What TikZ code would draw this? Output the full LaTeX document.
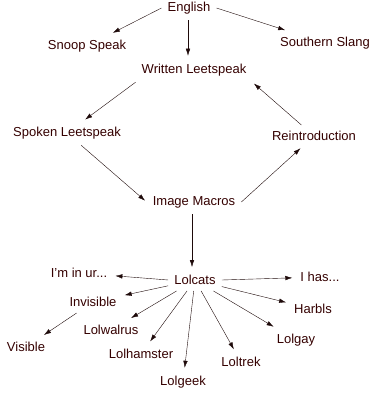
\documentclass[tikz,border=0pt]{standalone}
\usepackage{fontspec}
\setmainfont{Liberation Sans}
\usetikzlibrary{arrows.meta}
\definecolor{lolred}{RGB}{52,0,0}
\definecolor{lolline}{RGB}{30,10,10}
\tikzset{
	meme/.style={text=lolred, inner sep=6pt, font=\fontsize{13}{15}\selectfont},
	spread/.style={-{Latex[length=7pt,width=4.5pt]}, draw=lolline, thin, shorten >=2pt}
}
\begin{document}
\begin{tikzpicture}[x=1pt,y=-1pt]
		\useasboundingbox (0,0) rectangle (379,394);
		%% The Language Tree
		\node[meme] (eng)     at (189,8)   {English};
		\node[meme] (snoop)   at (87,46)   {Snoop Speak};
		\node[meme] (south)   at (325,43)  {Southern Slang};
		\node[meme] (written) at (194,70)  {Written Leetspeak};
		\node[meme] (spoken)  at (67,133)  {Spoken Leetspeak};
		\node[meme] (reintro) at (314,136) {Reintroduction};
		\node[meme] (macros)  at (194,202) {Image Macros};
		%% The Lolcats Family
		\node[meme] (lolcats) at (195,280) {Lolcats};
		\node[meme] (inur)    at (79,273)  {I'm in ur...};
		\node[meme] (ihas)    at (320,277) {I has...};
		\node[meme] (invis)   at (93,302)  {Invisible};
		\node[meme] (vis)     at (26,347)  {Visible};
		\node[meme] (walrus)  at (111,330) {Lolwalrus};
		\node[meme] (hamster) at (141,354) {Lolhamster};
		\node[meme] (geek)    at (183,382) {Lolgeek};
		\node[meme] (trek)    at (241,362) {Loltrek};
		\node[meme] (gay)     at (296,340) {Lolgay};
		\node[meme] (harbls)  at (313,309) {Harbls};
		%% Connecting with arrows
		\draw[spread] (eng.west) -- (snoop);
		\draw[spread] (eng.east) -- (south);
		\draw[spread] ([xshift=-1pt]eng.south) -- ([xshift=-1pt]eng.south |- written.north);
		\draw[spread] (written.south west) -- (spoken);
		\draw[spread] (spoken) -- (macros.west);
		\draw[spread] (macros.east) -- (reintro);
		\draw[spread] (reintro) -- (written.south east);
		\draw[spread] ([xshift=-2pt]macros.south) -- ([xshift=-2pt]macros.south |- lolcats.north);
		\draw[spread] (lolcats.west) -- (inur);
		\draw[spread] (lolcats.east) -- (ihas);
		\draw[spread] (lolcats) -- (invis);
		\draw[spread] (invis) -- (vis);
		\draw[spread] (lolcats) -- (walrus);
		\draw[spread] (lolcats) -- (hamster);
		\draw[spread] (lolcats) -- (geek);
		\draw[spread] (lolcats) -- (trek);
		\draw[spread] (lolcats) -- (gay);
		\draw[spread] (lolcats) -- (harbls);
\end{tikzpicture}
\end{document}
